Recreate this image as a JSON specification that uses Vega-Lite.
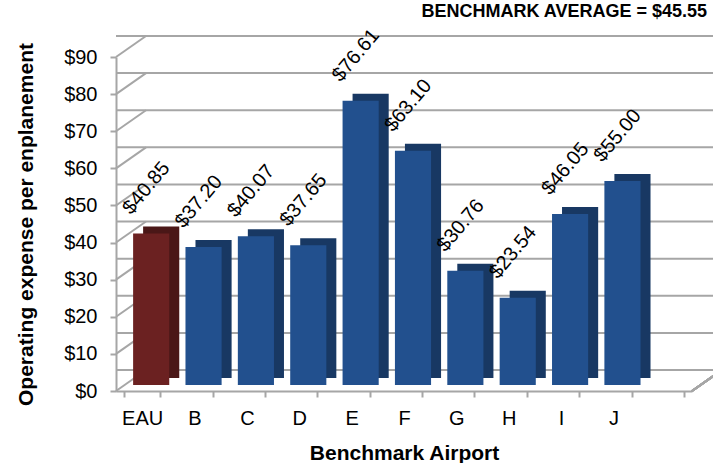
{
  "$schema": "https://vega.github.io/schema/vega-lite/v6.json",
  "autosize": {"type": "none"},
  "width": 576,
  "height": 334,
  "padding": {"left": 116, "top": 57, "right": 21, "bottom": 72},
  "background": "#ffffff",
  "config": {
    "view": {"stroke": null},
    "font": "Liberation Sans",
    "axis": {"labelFont": "Liberation Sans", "titleFont": "Liberation Sans", "labelColor": "#000000", "titleColor": "#000000"}
  },
  "title": {
    "text": "BENCHMARK AVERAGE = $45.55",
    "anchor": "end",
    "frame": "group",
    "offset": 5,
    "dx": 15,
    "fontSize": 18,
    "fontWeight": "bold",
    "font": "Liberation Sans",
    "color": "#000000"
  },
  "datasets": {
    "airports": [
      {"airport": "EAU", "value": 40.85},
      {"airport": "B", "value": 37.20},
      {"airport": "C", "value": 40.07},
      {"airport": "D", "value": 37.65},
      {"airport": "E", "value": 76.61},
      {"airport": "F", "value": 63.10},
      {"airport": "G", "value": 30.76},
      {"airport": "H", "value": 23.54},
      {"airport": "I", "value": 46.05},
      {"airport": "J", "value": 55.00}
    ],
    "gridTicks": [
      {"value": 0}, {"value": 10}, {"value": 20}, {"value": 30}, {"value": 40},
      {"value": 50}, {"value": 60}, {"value": 70}, {"value": 80}, {"value": 90}
    ]
  },
  "encoding": {
    "y": {
      "field": "value", "type": "quantitative",
      "scale": {"domain": [0, 90], "nice": false, "zero": true},
      "axis": {
        "values": [0, 10, 20, 30, 40, 50, 60, 70, 80, 90],
        "format": "$.0f",
        "grid": false,
        "labelOverlap": false,
        "domainColor": "#a6a6a6", "domainWidth": 2,
        "tickColor": "#a6a6a6", "tickWidth": 2, "tickSize": 6,
        "labelFontSize": 20, "labelPadding": 13,
        "title": "Operating expense per enplanement",
        "titleFontSize": 21, "titleFontWeight": "bold", "titlePadding": 27
      }
    }
  },
  "layer": [
    {
      "description": "Back wall gridlines, pushed back and up to fake depth",
      "data": {"name": "gridTicks"},
      "mark": {"type": "rule", "color": "#a6a6a6", "strokeWidth": 2, "xOffset": 30, "x2Offset": 30, "yOffset": -21, "y2Offset": -21}
    },
    {
      "description": "Side wall: diagonal from each front tick to its back gridline",
      "data": {"name": "gridTicks"},
      "mark": {"type": "rule", "color": "#a6a6a6", "strokeWidth": 2, "x2Offset": 30, "y2Offset": -21},
      "encoding": {
        "x": {"value": 0},
        "x2": {"value": 0},
        "y2": {"field": "value"}
      }
    },
    {
      "description": "Right edge of the floor",
      "data": {"name": "gridTicks"},
      "mark": {"type": "rule", "color": "#a6a6a6", "strokeWidth": 2, "x2Offset": 30, "y2Offset": -21},
      "encoding": {
        "x": {"value": "width"},
        "x2": {"value": "width"},
        "y": {"value": "height"},
        "y2": {"value": "height"}
      }
    },
    {
      "description": "Top and side faces of each bar (darker shade behind the front face)",
      "data": {"name": "airports"},
      "mark": {"type": "bar", "xOffset": 19, "x2Offset": 19, "yOffset": -13, "y2Offset": -13},
      "encoding": {
        "x": {
          "field": "airport", "type": "nominal",
          "scale": {"domain": ["EAU", "B", "C", "D", "E", "F", "G", "H", "I", "J", " "], "paddingInner": 0.31, "paddingOuter": 0.155},
          "sort": null,
          "axis": {
            "tickBand": "extent",
            "labelAngle": 0,
            "domainColor": "#a6a6a6", "domainWidth": 2,
            "tickColor": "#a6a6a6", "tickWidth": 2, "tickSize": 6,
            "labelFontSize": 20, "labelPadding": 11,
            "title": "Benchmark Airport",
            "titleFontSize": 21, "titleFontWeight": "bold", "titlePadding": 14
          }
        },
        "y2": {"datum": 0},
        "color": {
          "condition": {"test": "datum.airport === 'EAU'", "value": "#4a1717"},
          "value": "#183863"
        }
      }
    },
    {
      "description": "Front face of each bar",
      "data": {"name": "airports"},
      "mark": {"type": "bar", "xOffset": 9, "x2Offset": 9, "yOffset": -6, "y2Offset": -6},
      "encoding": {
        "x": {"field": "airport", "type": "nominal", "sort": null},
        "y2": {"datum": 0},
        "color": {
          "condition": {"test": "datum.airport === 'EAU'", "value": "#6b2121"},
          "value": "#22508e"
        }
      }
    },
    {
      "description": "Value labels, slanted up to the right",
      "data": {"name": "airports"},
      "mark": {"type": "text", "angle": 310, "align": "left", "baseline": "alphabetic", "fontSize": 20, "color": "#000000", "yOffset": -24},
      "encoding": {
        "x": {"field": "airport", "type": "nominal", "sort": null, "bandPosition": 0.2},
        "text": {"field": "value", "type": "quantitative", "format": "$.2f"}
      }
    }
  ]
}
